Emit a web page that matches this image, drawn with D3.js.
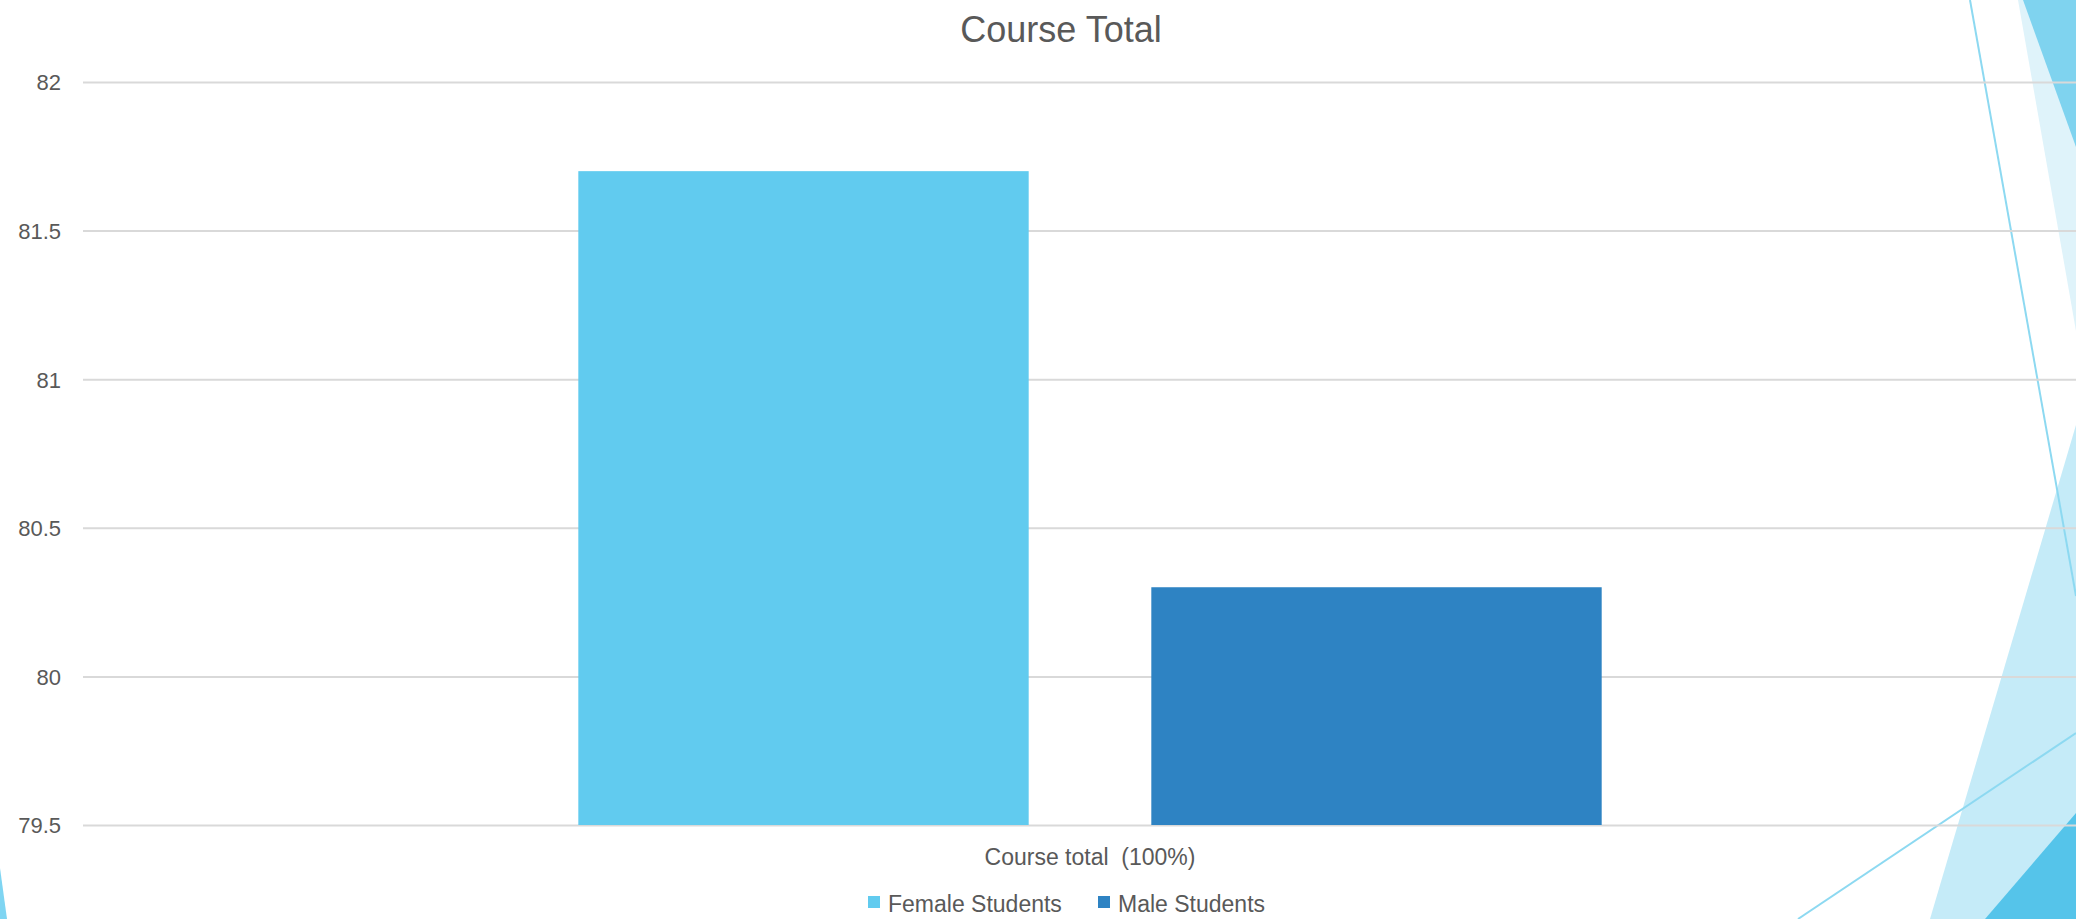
<!DOCTYPE html>
<html>
<head>
<meta charset="utf-8">
<script src="https://cdn.jsdelivr.net/npm/d3@7"></script>
<style>
  html, body { margin: 0; padding: 0; background: #ffffff; }
  svg { display: block; font-family: "Liberation Sans", Arial, sans-serif; }
  .axis text { fill: #595959; font-size: 22px; }
  .axis line { stroke: #d9d9d9; stroke-width: 2px; }
  .title { fill: #595959; font-size: 36px; }
  .catLabel { fill: #595959; font-size: 23px; white-space: pre; }
  .legendText { fill: #595959; font-size: 23px; }
</style>
</head>
<body>
<div id="chart"></div>
<script>
// chart data
var categories = ["Course total  (100%)"];
var seriesNames = ["Female Students", "Male Students"];
var seriesValues = [81.7, 80.3];
var seriesColors = ["#61cbef", "#2e83c3"];
var tickLabels = [79.5, 80, 80.5, 81, 81.5, 82];

// theme decoration shapes (background only)
var decoPolys = [
    {fill: "#dff3fa", pts: [[2018, 0], [2076, 0], [2076, 331]]},
    {fill: "#7fd3ef", pts: [[2023, 0], [2076, 0], [2076, 147]]},
    {fill: "#c5ebf8", pts: [[2076, 425], [1930, 919], [2076, 919]]},
    {fill: "#55c4ea", pts: [[2076, 813], [1985, 919], [2076, 919]]},
    {fill: "#7fd5f2", pts: [[0, 868], [7, 919], [0, 919]]}
];
var decoLines = [
    [[1970, 0], [2076, 596]],
    [[1798, 919], [2076, 733]]
];

var width = 2076, height = 919;
var margin = {top: 82, right: -21, bottom: 94, left: 83};

var svg = d3.select("#chart").append("svg")
    .attr("width", width)
    .attr("height", height);

//background theme shapes
var deco = svg.append("g");
decoPolys.forEach(function(p){
    deco.append("polygon")
        .attr("points", p.pts.map(function(d){ return d.join(","); }).join(" "))
        .attr("fill", p.fill);
});
decoLines.forEach(function(l){
    deco.append("line")
        .attr("x1", l[0][0]).attr("y1", l[0][1])
        .attr("x2", l[1][0]).attr("y2", l[1][1])
        .attr("stroke", "#8dd9f1")
        .attr("stroke-width", 2);
});

var plotRight = width - margin.right;
var plotBottom = height - margin.bottom;

var y = d3.scaleLinear()
    .domain([d3.min(tickLabels), d3.max(tickLabels)])
    .range([plotBottom, margin.top]);

var x0 = d3.scaleBand()
    .domain(categories)
    .range([margin.left, plotRight])
    .paddingOuter(0.484)
    .paddingInner(0);

var x1 = d3.scaleBand()
    .domain(seriesNames)
    .range([0, x0.bandwidth()])
    .paddingInner(0.214);

//gridlines + tick labels
var yAxis = d3.axisLeft(y)
    .tickValues(tickLabels)
    .tickFormat(function(d){ return String(d); })
    .tickSize(-(plotRight - margin.left))
    .tickPadding(22);

var gAxis = svg.append("g")
    .attr("class", "axis")
    .attr("transform", "translate(" + margin.left + ",0)")
    .call(yAxis);
gAxis.select(".domain").remove();
gAxis.selectAll("text").attr("dy", "0.36em");

//bars
var groups = svg.selectAll(".cat").data(categories)
    .enter().append("g")
    .attr("class", "cat")
    .attr("transform", function(d){ return "translate(" + x0(d) + ",0)"; });

groups.selectAll("rect")
    .data(seriesNames.map(function(s, i){ return {name: s, value: seriesValues[i], color: seriesColors[i]}; }))
    .enter().append("rect")
    .attr("x", function(d){ return x1(d.name); })
    .attr("y", function(d){ return y(d.value); })
    .attr("width", x1.bandwidth())
    .attr("height", function(d){ return y(d3.min(tickLabels)) - y(d.value); })
    .attr("fill", function(d){ return d.color; });

//category label
svg.selectAll(".catLabel").data(categories)
    .enter().append("text")
    .attr("class", "catLabel")
    .attr("x", function(d){ return x0(d) + x0.bandwidth() / 2; })
    .attr("y", plotBottom + 40)
    .attr("text-anchor", "middle")
    .text(function(d){ return d; });

//title
svg.append("text")
    .attr("class", "title")
    .attr("x", 1061)
    .attr("y", 42)
    .attr("text-anchor", "middle")
    .text("Course Total");

//legend
var legendX = [868, 1098];
var legend = svg.selectAll(".legend").data(seriesNames)
    .enter().append("g")
    .attr("class", "legend")
    .attr("transform", function(d, i){ return "translate(" + legendX[i] + ",896)"; });

legend.append("rect")
    .attr("width", 12)
    .attr("height", 12)
    .attr("fill", function(d, i){ return seriesColors[i]; });

legend.append("text")
    .attr("class", "legendText")
    .attr("x", 20)
    .attr("y", 16)
    .text(function(d){ return d; });
</script>
</body>
</html>
